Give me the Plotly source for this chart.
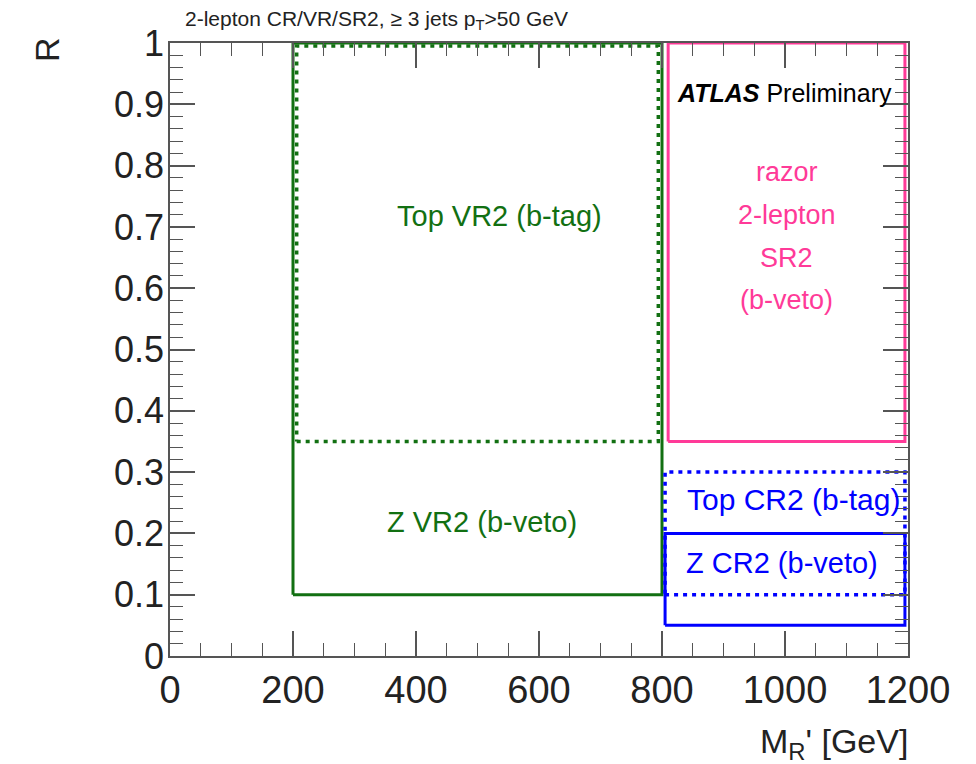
import plotly.graph_objects as go

# ---- data: region boxes (M_R' in GeV, R) ----
region_names = ["Z VR2", "Top VR2", "SR2", "Top CR2", "Z CR2"]
region_x_lo = [200, 206, 810, 805, 805]
region_x_hi = [800, 794, 1195, 1195, 1195]
region_y_lo = [0.10, 0.35, 0.35, 0.10, 0.05]
region_y_hi = [1.00, 0.995, 1.00, 0.30, 0.20]

# ---- region labels ----
label_texts = ["Top VR2 (b-tag)", "Z VR2 (b-veto)", "razor", "2-lepton", "SR2", "(b-veto)",
               "Top CR2 (b-tag)", "Z CR2 (b-veto)"]
label_x = [535, 507, 1003, 1003, 1003, 1003, 1013, 995]
label_y = [0.717, 0.218, 0.790, 0.720, 0.650, 0.580, 0.256, 0.151]

x_ticks = [0, 200, 400, 600, 800, 1000, 1200]
y_ticks = [0, 0.1, 0.2, 0.3, 0.4, 0.5, 0.6, 0.7, 0.8, 0.9, 1.0]

# ---- styles ----
GREEN = "#127012"
PINK = "#ff3a98"
BLUE = "#0000ff"
region_colors = [GREEN, GREEN, PINK, BLUE, BLUE]
region_dash = ["solid", "4px,5px", "solid", "4px,5px", "solid"]
region_width = [3, 3.5, 3, 3.5, 3]
label_colors = [GREEN, GREEN, PINK, PINK, PINK, PINK, BLUE, BLUE]
label_sizes = [29, 29, 27, 27, 27, 27, 30, 29]
FONT = "Liberation Sans, Arial, Helvetica, sans-serif"

fig = go.Figure()
for i, name in enumerate(region_names):
    xs = [region_x_lo[i], region_x_hi[i], region_x_hi[i], region_x_lo[i], region_x_lo[i]]
    ys = [region_y_lo[i], region_y_lo[i], region_y_hi[i], region_y_hi[i], region_y_lo[i]]
    fig.add_trace(go.Scatter(x=xs, y=ys, mode="lines", name=name, showlegend=False,
                             line=dict(color=region_colors[i], width=region_width[i],
                                       dash=region_dash[i]),
                             hoverinfo="skip"))

for t, x, y, c, s in zip(label_texts, label_x, label_y, label_colors, label_sizes):
    fig.add_annotation(x=x, y=y, xref="x", yref="y", text=t, showarrow=False,
                       font=dict(family=FONT, size=s, color=c), xanchor="center", yanchor="middle")

fig.add_annotation(x=821, y=0.918, xref="x", yref="y",
                   text="<b><i>ATLAS</i></b> Preliminary", showarrow=False,
                   font=dict(family=FONT, size=25, color="black"), xanchor="left", yanchor="middle")

fig.add_annotation(x=0.0176, y=1.038, xref="paper", yref="paper",
                   text="2-lepton CR/VR/SR2, ≥ 3 jets p<sub>T</sub>>50 GeV", showarrow=False,
                   font=dict(family=FONT, size=21, color="#222"), xanchor="left", yanchor="middle")

fig.add_annotation(x=-0.1667, y=0.99, xref="paper", yref="paper", text="R", textangle=-90,
                   showarrow=False, font=dict(family=FONT, size=34, color="#222"),
                   xanchor="center", yanchor="middle")

fig.add_annotation(x=1.003, y=-0.142, xref="paper", yref="paper",
                   text="M<sub>R</sub>' [GeV]", showarrow=False,
                   font=dict(family=FONT, size=34, color="#222"), xanchor="right", yanchor="middle")

axis_common = dict(showgrid=False, zeroline=False, showline=True, linecolor="#555", linewidth=1.5,
                   mirror="ticks", ticks="inside", tickcolor="#555", tickwidth=1.5, ticklen=25,
                   automargin=False)

fig.update_xaxes(range=[0, 1200], tickvals=x_ticks, ticktext=[str(v) for v in x_ticks],
                 tickfont=dict(family=FONT, size=38, color="#222"),
                 minor=dict(dtick=50, ticklen=13, ticks="inside", tickcolor="#555", tickwidth=1.2),
                 **axis_common)
fig.update_yaxes(range=[0, 1], tickvals=y_ticks, ticktext=["0"] + [f"{v:g}" for v in y_ticks[1:]],
                 tickfont=dict(family=FONT, size=36, color="#222"), ticklabelstandoff=-3,
                 minor=dict(dtick=0.02, ticklen=13, ticks="inside", tickcolor="#555", tickwidth=1.2),
                 **axis_common)

# page body has an 8px margin, so the figure is sized/offset to land the frame where the reference has it
fig.update_layout(width=968, height=756, margin=dict(l=162, r=68, t=35, b=108),
                  plot_bgcolor="white", paper_bgcolor="white", showlegend=False)

fig.write_html("out.html")
